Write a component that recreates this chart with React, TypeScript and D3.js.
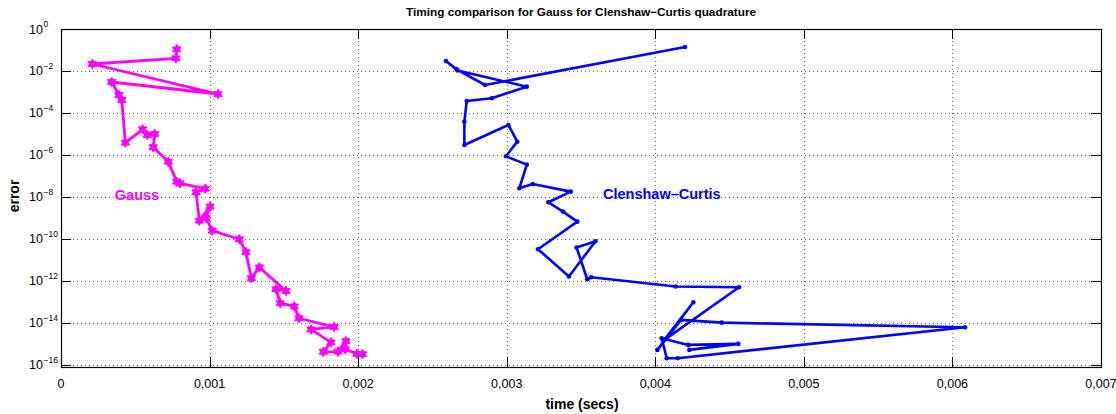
import React from "react";
import * as d3 from "d3";

// time (s) and error
const gaussTime = [
  0.000779, 0.000774, 0.000211, 0.001057, 0.000341, 0.00039, 0.000409, 0.000433,
  0.00055, 0.000581, 0.000631, 0.000621, 0.000722, 0.000779, 0.000801, 0.000971,
  0.000909, 0.000931, 0.001003, 0.000976, 0.001018, 0.0012, 0.001245, 0.001282,
  0.001335, 0.001514, 0.001447, 0.001476, 0.00157, 0.001602, 0.001838, 0.001683,
  0.001817, 0.001766, 0.001864, 0.001918, 0.001914, 0.001992, 0.002029,
];
const gaussError = [
  1.08e-1, 4.03e-2, 2.15e-2, 8.0e-4, 2.99e-3, 7.2e-4, 4.16e-4, 3.85e-6,
  1.67e-5, 8.96e-6, 1.0e-5, 2.33e-6, 4.8e-7, 5.35e-8, 4.49e-8, 2.48e-8,
  1.67e-8, 7.43e-10, 3.45e-9, 1.0e-9, 2.48e-10, 9.7e-11, 2.33e-11, 1.35e-12,
  4.4e-12, 3.34e-13, 4.03e-13, 8.67e-14, 6.1e-14, 1.67e-14, 6.45e-15, 4.9e-15,
  1.18e-15, 4.16e-16, 4.3e-16, 1.35e-15, 5.6e-16, 3.34e-16, 3.27e-16,
];

const ccTime = [
  0.0042, 0.002854, 0.002663, 0.002591, 0.002669, 0.003135, 0.002899, 0.002731,
  0.002715, 0.002715, 0.003011, 0.003071, 0.002995, 0.003135, 0.003085, 0.003175,
  0.003431, 0.00328, 0.003379, 0.003475, 0.003211, 0.003419, 0.003598, 0.00347,
  0.003542, 0.003569, 0.004137, 0.004564, 0.004061, 0.004256, 0.004014, 0.004173,
  0.004447, 0.006085, 0.004151, 0.004077, 0.004043, 0.004222, 0.004559, 0.004229,
];
const ccError = [
  1.39e-1, 2.15e-3, 1.2e-2, 2.99e-2, 1.06e-2, 1.79e-3, 5.0e-4, 3.73e-4,
  3.85e-5, 3.0e-6, 2.68e-5, 4.3e-6, 8.67e-7, 3.45e-7, 2.6e-8, 4.16e-8,
  1.79e-8, 5.6e-9, 2.0e-9, 6.67e-10, 3.23e-11, 1.64e-12, 7.77e-11, 3.94e-11,
  1.2e-12, 1.5e-12, 5.47e-13, 5.0e-13, 1.55e-15, 9.68e-14, 5.18e-16, 1.39e-14,
  1.03e-14, 6.24e-15, 2.09e-16, 2.09e-16, 1.87e-15, 8.96e-16, 1.0e-15, 5.18e-16,
];

const xTicks = [0, 0.001, 0.002, 0.003, 0.004, 0.005, 0.006, 0.007];
const yExponents = [0, -2, -4, -6, -8, -10, -12, -14, -16];

const W = 1116;
const H = 414;
const left = 61, right = 1101, top = 29, bottom = 367;

const font = "'Liberation Sans', Arial, Helvetica, sans-serif";

// six-pointed star marker
function hexagram(r: number) {
  const pts: [number, number][] = [];
  for (let i = 0; i < 12; i++) {
    const a = (Math.PI / 6) * i - Math.PI / 2;
    const rr = i % 2 === 0 ? r : r / Math.sqrt(3);
    pts.push([rr * Math.cos(a), rr * Math.sin(a)]);
  }
  return "M" + pts.map((p) => p.join(",")).join("L") + "Z";
}

export default function App() {
  const x = d3.scaleLinear().domain([0, 0.007]).range([left, right]);
  const y = d3.scaleLog().domain([Math.pow(10, -16.1), 1]).range([bottom, top]);

  const gauss = gaussTime.map((t, i) => [t, gaussError[i]] as [number, number]);
  const cc = ccTime.map((t, i) => [t, ccError[i]] as [number, number]);

  const line = d3
    .line<[number, number]>()
    .x((d) => x(d[0]))
    .y((d) => y(d[1]));

  const star = hexagram(4.8);
  const fmt = (v: number) => (v === 0 ? "0" : v.toFixed(3).replace(".", ","));

  return (
    <svg
      width={W}
      height={H}
      style={{ position: "absolute", left: 0, top: 0, background: "#fff" }}
      fontFamily={font}
    >
      <rect x={0} y={0} width={W} height={H} fill="#fff" />

      {/* grid */}
      <g stroke="#666" strokeWidth={1} strokeDasharray="1,3">
        {xTicks.slice(1, -1).map((t) => (
          <line key={"gx" + t} x1={Math.round(x(t)) + 0.5} x2={Math.round(x(t)) + 0.5} y1={top} y2={bottom} />
        ))}
        {yExponents.slice(1).map((e) => (
          <line key={"gy" + e} x1={left} x2={right} y1={Math.round(y(Math.pow(10, e))) + 0.5} y2={Math.round(y(Math.pow(10, e))) + 0.5} />
        ))}
      </g>

      {/* ticks */}
      <g stroke="#000" strokeWidth={1}>
        {xTicks.slice(1, -1).map((t) => {
          const xx = Math.round(x(t)) + 0.5;
          return (
            <g key={"tx" + t}>
              <line x1={xx} x2={xx} y1={bottom} y2={bottom - 10} />
              <line x1={xx} x2={xx} y1={top} y2={top + 10} />
            </g>
          );
        })}
        {yExponents.slice(1).map((e) => {
          const yy = Math.round(y(Math.pow(10, e))) + 0.5;
          return (
            <g key={"ty" + e}>
              <line x1={left} x2={left + 10} y1={yy} y2={yy} />
              <line x1={right - 10} x2={right} y1={yy} y2={yy} />
            </g>
          );
        })}
      </g>

      {/* frame */}
      <rect x={left + 0.5} y={top + 0.5} width={right - left} height={bottom - top} fill="none" stroke="#000" strokeWidth={1.2} />

      {/* curves */}
      <path d={line(gauss) || ""} fill="none" stroke="#ff00ff" strokeWidth={2.8} strokeLinejoin="round" />
      {gauss.map((d, i) => (
        <path key={"gm" + i} d={star} transform={`translate(${x(d[0])},${y(d[1])})`} fill="#ff00ff" stroke="#ff00ff" strokeWidth={1} />
      ))}
      <path d={line(cc) || ""} fill="none" stroke="#0000ff" strokeWidth={2.6} strokeLinejoin="round" />
      {cc.map((d, i) => (
        <circle key={"cm" + i} cx={x(d[0])} cy={y(d[1])} r={2.3} fill="#0000ff" />
      ))}

      {/* tick labels */}
      <g fontSize={12.5} fill="#000">
        {xTicks.map((t) => (
          <text key={"lx" + t} x={x(t)} y={bottom + 21} textAnchor="middle">
            {fmt(t)}
          </text>
        ))}
        {yExponents.map((e) => {
          const yy = y(Math.pow(10, e));
          return (
            <text key={"ly" + e} x={43} y={yy + 4.5} textAnchor="end">
              10
              <tspan x={43.5} dy={-6.5} fontSize={8.5} textAnchor="start">
                {e === 0 ? "0" : "\u2212" + Math.abs(e)}
              </tspan>
            </text>
          );
        })}
      </g>

      {/* labels */}
      <text x={137} y={200} fontSize={14.5} fontWeight="bold" fill="#ff00ff" textAnchor="middle">
        Gauss
      </text>
      <text x={603} y={199} fontSize={14.5} fontWeight="bold" fill="#0000ff">
        Clenshaw{"\u2013"}Curtis
      </text>
      <text x={581} y={16} fontSize={11.8} fontWeight="bold" textAnchor="middle">
        Timing comparison for Gauss for Clenshaw{"\u2212"}Curtis quadrature
      </text>
      <text x={582} y={409} fontSize={14} fontWeight="bold" textAnchor="middle">
        time (secs)
      </text>
      <text transform={`translate(19,196) rotate(-90)`} fontSize={14} fontWeight="bold" textAnchor="middle">
        error
      </text>
    </svg>
  );
}
